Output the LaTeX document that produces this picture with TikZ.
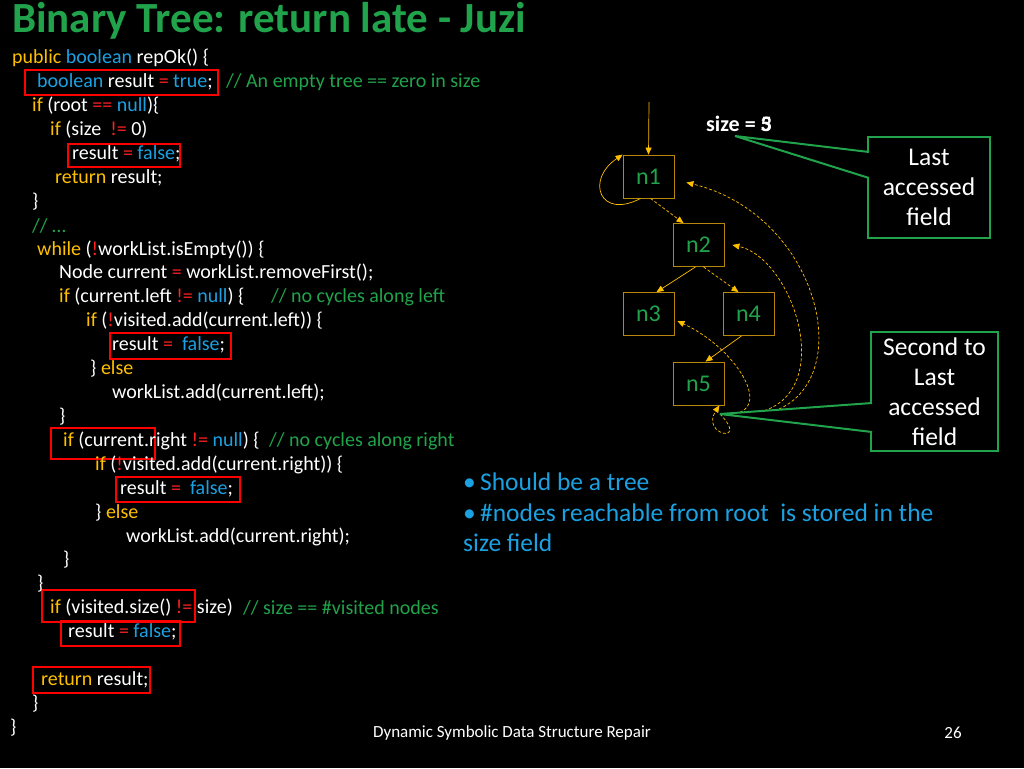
\documentclass[tikz,border=0pt]{standalone}
\usepackage{fontspec}
\setmainfont{Carlito}
\usetikzlibrary{arrows.meta}
\definecolor{gr}{HTML}{21A34B}
\definecolor{kb}{HTML}{1BA1E2}
\definecolor{ky}{HTML}{FFC000}
\definecolor{kr}{HTML}{FF2020}
\definecolor{gold}{HTML}{B8860B}
\newcommand{\K}[1]{\textcolor{kb}{#1}}
\newcommand{\Y}[1]{\textcolor{ky}{#1}}
\newcommand{\R}[1]{\textcolor{kr}{#1}}
\newcommand{\G}[1]{\textcolor{gr}{#1}}
\begin{document}
\begin{tikzpicture}[x=1pt,y=-1pt,
  code/.style={anchor=west,inner sep=0,text=white,font=\fontsize{20}{22}\selectfont},
  rbox/.style={draw=red,line width=1.5pt},
  tn/.style={draw=gold,line width=0.8pt,minimum width=51pt,minimum height=43pt,inner sep=0,text=gr,font=\fontsize{24}{26}\selectfont},
  sa/.style={draw=ky,-{Triangle[length=7pt,width=6pt]},line width=0.7pt},
  da/.style={sa,dashed,dash pattern=on 3pt off 2pt},
  call/.style={draw=gr,line width=2pt,fill=black,text=white,align=center,font=\fontsize{25.5}{30}\selectfont}]
\useasboundingbox[fill=black] (0,0) rectangle (1024,768);
\node[anchor=west,inner sep=0,text=gr,font=\fontsize{43}{46}\selectfont\bfseries] (title) at (12,21) {Binary Tree: return late - Juzi};
% red boxes
\draw[rbox] (25,70) rectangle (218,95);
\draw[rbox] (68,144) rectangle (180,167);
\draw[rbox] (110,333) rectangle (231,359);
\draw[rbox] (51,428) rectangle (155,459);
\draw[rbox] (116,477) rectangle (240,502);
\draw[rbox] (42,590) rectangle (195,622);
\draw[rbox] (61,621) rectangle (180,646);
\draw[rbox] (33,667) rectangle (150,693);
% code
\node[code] (c1) at (12,58) {\Y{public} \K{boolean} repOk() \{};
\node[code] (c2) at (37,82) {\K{boolean} result \R{=} \K{true};};
\node[code] (c2c) at (226,82) {\G{// An empty tree == zero in size}};
\node[code] (c3) at (32,106) {\Y{if} (root \R{==} \K{null})\{};
\node[code] (c4) at (50,130) {\Y{if} (size\ \ \R{!=} 0)};
\node[code] (c5) at (72,154) {result \R{=} \K{false};};
\node[code] (c6) at (55,178) {\Y{return} result;};
\node[code] (c7) at (32,202) {\}};
\node[code] (c8) at (32,226) {\G{// …}};
\node[code] (c9) at (37,250) {\Y{while} (\R{!}workList.isEmpty()) \{};
\node[code] (c10) at (59,273) {Node current \R{=} workList.removeFirst();};
\node[code] (c11) at (59,297) {\Y{if} (current.left \R{!=} \K{null}) \{};
\node[code] (c11c) at (271,297) {\G{// no cycles along left}};
\node[code] (c12) at (86,321) {\Y{if} (\R{!}visited.add(current.left)) \{};
\node[code] (c13) at (112,345) {result \R{=}\ \ \K{false};};
\node[code] (c14) at (90,369) {\} \Y{else}};
\node[code] (c15) at (112,393) {workList.add(current.left);};
\node[code] (c16) at (59,417) {\}};
\node[code] (c17) at (63,441) {\Y{if} (current.right \R{!=} \K{null}) \{};
\node[code] (c17c) at (269,441) {\G{// no cycles along right}};
\node[code] (c18) at (95,465) {\Y{if} (\R{!}visited.add(current.right)) \{};
\node[code] (c19) at (120,489) {result \R{=}\ \ \K{false};};
\node[code] (c20) at (95,513) {\} \Y{else}};
\node[code] (c21) at (126,537) {workList.add(current.right);};
\node[code] (c22) at (63,560) {\}};
\node[code] (c23) at (37,584) {\}};
\node[code] (c24) at (50,608) {\Y{if} (visited.size() \R{!=} size)};
\node[code] (c24c) at (243,608) {\G{// size == \#visited nodes}};
\node[code] (c25) at (68,632) {result \R{=} \K{false};};
\node[code] (c26) at (41,680) {\Y{return} result;};
\node[code] (c27) at (32,704) {\}};
\node[code] (c28) at (10,728) {\}};
% bullets
\node[anchor=west,inner sep=0,text=kb,font=\fontsize{25.5}{30}\selectfont] (b1) at (463,482) {•\,Should be a tree};
\node[anchor=west,inner sep=0,text=kb,font=\fontsize{25.5}{30}\selectfont] (b2) at (463,513) {•\,\#nodes reachable from root\ \ is stored in the};
\node[anchor=west,inner sep=0,text=kb,font=\fontsize{25.5}{30}\selectfont] (b3) at (463,543) {size field};
% footer
\node[text=white,font=\fontsize{17}{19}\selectfont] (foot) at (512,733) {Dynamic Symbolic Data Structure Repair};
\node[text=white,font=\fontsize{17}{19}\selectfont] (pg) at (953,733) {26};
% tree
\node[tn] (n1) at (648.5,176.5) {n1};
\node[tn] (n2) at (698.5,245) {n2};
\node[tn] (n3) at (648.5,314) {n3};
\node[tn] (n4) at (748.5,314) {n4};
\node[tn] (n5) at (698.5,383.5) {n5};
\coordinate (top) at (649,102);
\draw[sa] (top) -- (n1.north);
\draw[sa] ([xshift=-8pt]n1.south) .. controls (600,220) and (585,180) .. (n1.north west);
\draw[da] ([xshift=2pt]n1.south) -- ([xshift=-15pt]n2.north);
\draw[sa] ([xshift=-3pt]n2.south) -- ([xshift=8pt]n3.north);
\draw[da] ([xshift=5pt]n2.south) -- ([xshift=-10pt]n4.north);
\draw[sa] ([xshift=-7pt]n4.south) -- ([xshift=7pt]n5.north);
\coordinate (hub) at (720,414);
\draw[da] (hub) .. controls (870,440) and (840,220) .. ([xshift=12pt,yshift=-6pt]n1.east);
\draw[da] (hub) .. controls (850,430) and (800,260) .. ([xshift=8pt]n2.east);
\draw[da] (hub) .. controls (780,420) and (740,350) .. ([xshift=3pt,yshift=-7pt]n3.east);
\draw[da] (hub) .. controls (750,445) and (700,435) .. ([xshift=-5pt]n5.south east);
% size label
\node[anchor=west,inner sep=0,text=white,font=\fontsize{22}{26}\selectfont\bfseries] (size) at (706,124) {size = \rlap{3}5};
% callouts
\node[call,minimum width=122pt,minimum height=101pt] (cb1) at (929,187.5) {Last\\accessed\\field};
\node[call,minimum width=127pt,minimum height=119pt] (cb2) at (934.5,391.5) {Second to\\Last\\accessed\\field};
\coordinate (p1) at (735,136);
\fill[black] (p1) -- (869,152) -- (869,178) -- cycle;
\draw[gr,line width=2pt] (869,152) -- (p1) -- (869,178);
\fill[black] (hub) -- (872,403) -- (872,432) -- cycle;
\draw[gr,line width=2pt] (872,403) -- (hub) -- (872,432);
\end{tikzpicture}
\end{document}
